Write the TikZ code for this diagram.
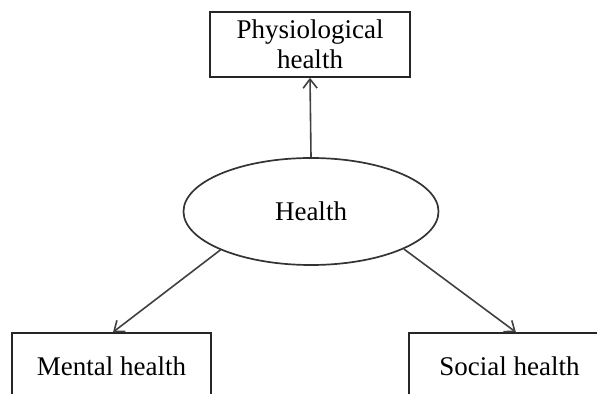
\documentclass[tikz,border=0pt]{standalone}
\usepackage{fontspec}
\setmainfont{Liberation Serif}
\usetikzlibrary{shapes.geometric,arrows.meta}
\begin{document}
\begin{tikzpicture}[x=0.5pt,y=-0.5pt,
  box/.style={draw=black!85,line width=0.85pt,rectangle,inner sep=0pt,align=center,
    font=\fontsize{13.5}{15.2}\selectfont},
  oval/.style={draw=black!80,line width=0.85pt,ellipse,inner sep=0pt,
    minimum width=127.5pt,minimum height=53.5pt,font=\fontsize{13.5}{15.2}\selectfont},
  conn/.style={draw=black!75,line width=0.8pt,-{Straight Barb[length=4.5pt,width=7pt]}}]
\useasboundingbox (0,0) rectangle (597,394);
\clip (0,0) rectangle (597,394);
\node[box,minimum width=100pt,minimum height=32.5pt] (pb) at (310,44.5) {Physiological\\health};
\node[oval] (h) at (311,211.5) {Health};
\node[box,minimum width=99.5pt,minimum height=33.5pt] (ml) at (111.5,366.5) {Mental health};
\node[box,minimum width=100.5pt,minimum height=33.5pt] (sh) at (509.5,366.5) {Social health};
\draw[conn] (h.north) -- (pb.south);
\draw[conn] (h.203) -- ([xshift=0.75pt]ml.north);
\draw[conn] (h.338.7) -- ([xshift=3.2pt]sh.north);
\end{tikzpicture}
\end{document}
